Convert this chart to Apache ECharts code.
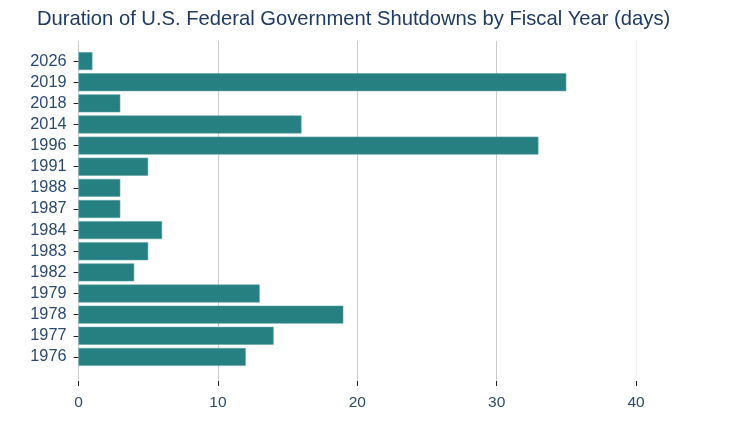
<!DOCTYPE html>
<html>
<head>
<meta charset="utf-8">
<script src="https://cdn.jsdelivr.net/npm/echarts@6/dist/echarts.min.js"></script>
<style>html,body{margin:0;padding:0;background:#fff;}#c{width:742px;height:422px;}</style>
</head>
<body>
<div id="c"></div>
<script>
const years = ['1976','1977','1978','1979','1982','1983','1984','1987','1988','1991','1996','2014','2018','2019','2026'];
const days  = [12, 14, 19, 13, 4, 5, 6, 3, 3, 5, 33, 16, 3, 35, 1];
const xTicks = [0, 10, 20, 30, 40];

const textColor = '#2b4a72';
const chart = echarts.init(document.getElementById('c'));
chart.setOption({
  animation: false,
  title: {
    text: 'Duration of U.S. Federal Government Shutdowns by Fiscal Year (days)',
    left: 32, top: 4,
    textStyle: { fontFamily: 'Liberation Sans', fontSize: 20.2, fontWeight: 'normal', color: '#1f3b63' }
  },
  grid: [
    { left: 78.5, right: 106, top: 41, bottom: 41 },
    { left: 78.5, right: 106, top: 50.5, bottom: 54.5 }
  ],
  xAxis: [
    {
      gridIndex: 0, type: 'value', min: xTicks[0], max: xTicks[xTicks.length - 1], interval: 10,
      axisLine: { show: false },
      axisTick: { show: true, length: 5, lineStyle: { color: '#222', width: 1 } },
      axisLabel: { margin: 14, fontFamily: 'Liberation Sans', fontSize: 15.5, color: textColor },
      splitLine: { show: true, lineStyle: { color: ['#cccccc', '#cccccc', '#cccccc', '#cccccc', '#f2f2f2'], width: 1 } }
    },
    {
      gridIndex: 1, type: 'value', min: xTicks[0], max: xTicks[xTicks.length - 1],
      show: false
    }
  ],
  yAxis: [
    { gridIndex: 0, type: 'value', show: false },
    {
      gridIndex: 1, type: 'category', data: years,
      axisLine: { show: false },
      axisTick: { show: true, alignWithLabel: true, length: 5, lineStyle: { color: '#222', width: 1 } },
      axisLabel: { margin: 12, fontFamily: 'Liberation Sans', fontSize: 16.3, color: textColor },
      splitLine: { show: false }
    }
  ],
  series: [{
    type: 'bar',
    xAxisIndex: 1, yAxisIndex: 1,
    data: days,
    barCategoryGap: '15%',
    itemStyle: { color: '#267f81', borderColor: '#5fa3a4', borderWidth: 0.6 }
  }]
});
</script>
</body>
</html>
